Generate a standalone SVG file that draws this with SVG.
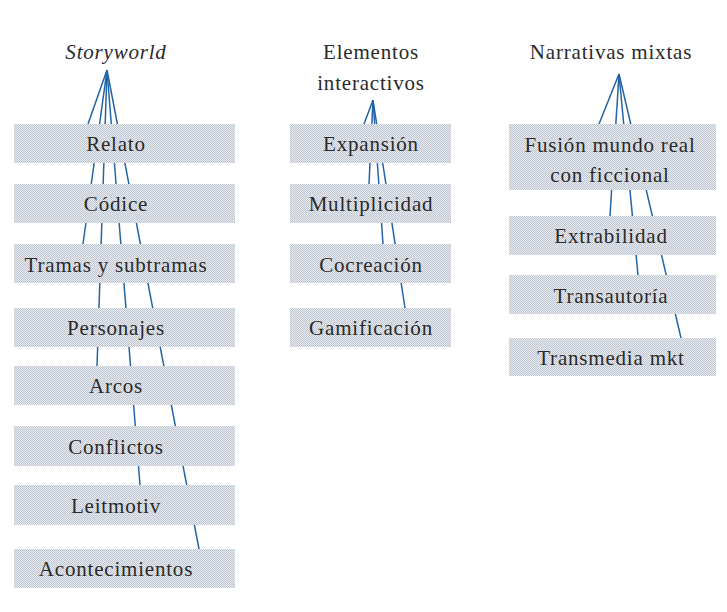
<svg xmlns="http://www.w3.org/2000/svg" width="727" height="612" viewBox="0 0 727 612">
<defs>
<pattern id="dots" width="2" height="2" patternUnits="userSpaceOnUse">
<rect width="2" height="2" fill="#e6ecf6"/>
<rect width="1" height="1" fill="#c2c5cc"/>
<rect x="1" y="1" width="1" height="1" fill="#c2c5cc"/>
</pattern>
<style>
.box{fill:url(#dots);}
.t{font-family:"Liberation Serif","Times New Roman",serif;font-size:21px;fill:#2a2a2a;text-anchor:middle;letter-spacing:0.8px;}
.it{font-style:italic;}
.c{stroke:#2464a4;stroke-width:1.5;fill:none;}
</style>
</defs>
<rect width="727" height="612" fill="#fff"/>
<g id="connectors">
<line class="c" x1="107" y1="70" x2="88" y2="124"/>
<line class="c" x1="107" y1="70" x2="83" y2="244"/>
<line class="c" x1="107" y1="70" x2="97" y2="366"/>
<line class="c" x1="107" y1="70" x2="140" y2="485"/>
<line class="c" x1="107" y1="70" x2="199" y2="549"/>
<line class="c" x1="373" y1="100" x2="364" y2="124"/>
<line class="c" x1="373" y1="100" x2="369" y2="184"/>
<line class="c" x1="373" y1="100" x2="383" y2="244"/>
<line class="c" x1="373" y1="100" x2="405" y2="308"/>
<line class="c" x1="619" y1="74" x2="599" y2="124"/>
<line class="c" x1="619" y1="74" x2="610" y2="216"/>
<line class="c" x1="619" y1="74" x2="638" y2="275"/>
<line class="c" x1="619" y1="74" x2="681" y2="338"/>
</g>
<g id="storyworld"><text class="t it" x="116" y="59">Storyworld</text></g>
<g id="relato"><rect class="box" x="14" y="124" width="221" height="39"/><text class="t" x="116" y="151">Relato</text></g>
<g id="codice"><rect class="box" x="14" y="184" width="221" height="39"/><text class="t" x="116" y="211">Códice</text></g>
<g id="tramas"><rect class="box" x="14" y="244" width="221" height="39"/><text class="t" x="116" y="272">Tramas y subtramas</text></g>
<g id="personajes"><rect class="box" x="14" y="308" width="221" height="39"/><text class="t" x="116" y="335">Personajes</text></g>
<g id="arcos"><rect class="box" x="14" y="366" width="221" height="39"/><text class="t" x="116" y="393">Arcos</text></g>
<g id="conflictos"><rect class="box" x="14" y="426" width="221" height="40"/><text class="t" x="116" y="454">Conflictos</text></g>
<g id="leitmotiv"><rect class="box" x="14" y="485" width="221" height="40"/><text class="t" x="116" y="513">Leitmotiv</text></g>
<g id="acontecimientos"><rect class="box" x="14" y="549" width="221" height="39"/><text class="t" x="116" y="576">Acontecimientos</text></g>
<g id="elementos"><text class="t" x="371" y="59">Elementos</text><text class="t" x="371" y="90">interactivos</text></g>
<g id="expansion"><rect class="box" x="290" y="124" width="161" height="39"/><text class="t" x="371" y="151">Expansión</text></g>
<g id="multiplicidad"><rect class="box" x="290" y="184" width="161" height="39"/><text class="t" x="371" y="211">Multiplicidad</text></g>
<g id="cocreacion"><rect class="box" x="290" y="244" width="161" height="39"/><text class="t" x="371" y="272">Cocreación</text></g>
<g id="gamificacion"><rect class="box" x="290" y="308" width="161" height="39"/><text class="t" x="371" y="335">Gamificación</text></g>
<g id="narrativas"><text class="t" x="611" y="59">Narrativas mixtas</text></g>
<g id="fusion"><rect class="box" x="509" y="124" width="207" height="66"/><text class="t" x="610" y="152">Fusión mundo real</text><text class="t" x="610" y="182">con ficcional</text></g>
<g id="extrabilidad"><rect class="box" x="509" y="216" width="207" height="39"/><text class="t" x="611" y="243">Extrabilidad</text></g>
<g id="transautoria"><rect class="box" x="509" y="275" width="207" height="39"/><text class="t" x="611" y="303">Transautoría</text></g>
<g id="transmedia"><rect class="box" x="509" y="338" width="207" height="38"/><text class="t" x="611" y="365">Transmedia mkt</text></g>
</svg>
